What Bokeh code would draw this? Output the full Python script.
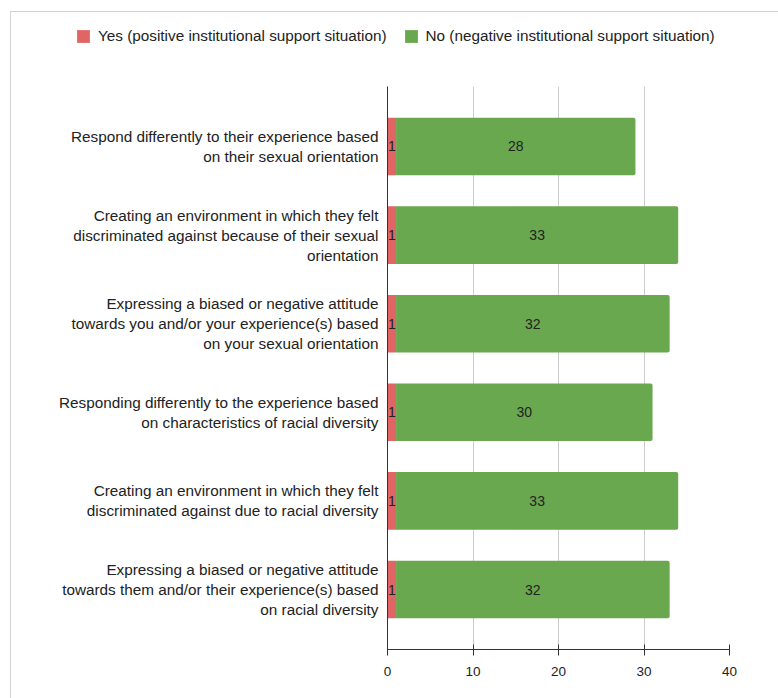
from bokeh.plotting import figure
from bokeh.layouts import column
from bokeh.models import (ColumnDataSource, Range1d, FixedTicker, Legend, LegendItem)
from bokeh.core.properties import value
from bokeh.embed import file_html
from bokeh.resources import INLINE

# Survey items (top to bottom) and response counts
categories = [
    "Respond differently to their experience based\non their sexual orientation",
    "Creating an environment in which they felt\ndiscriminated against because of their sexual\norientation",
    "Expressing a biased or negative attitude\ntowards you and/or your experience(s) based\non your sexual orientation",
    "Responding differently to the experience based\non characteristics of racial diversity",
    "Creating an environment in which they felt\ndiscriminated against due to racial diversity",
    "Expressing a biased or negative attitude\ntowards them and/or their experience(s) based\non racial diversity",
]
yes_counts = [1, 1, 1, 1, 1, 1]
no_counts = [28, 33, 32, 30, 33, 32]
x_ticks = [0, 10, 20, 30, 40]

series_names = ["Yes (positive institutional support situation)",
                "No (negative institutional support situation)"]
YES_COLOR = "#e06666"
NO_COLOR = "#6aa84f"
FONT = "Liberation Sans"
TEXT_COLOR = "#222222"

idx = list(range(len(categories)))
no_start = yes_counts
no_end = [a + b for a, b in zip(yes_counts, no_counts)]

src = ColumnDataSource(dict(
    y=idx,
    yes_end=yes_counts,
    no_start=no_start,
    no_end=no_end,
    yes_mid=[e / 2 for e in yes_counts],
    no_mid=[(s + e) / 2 for s, e in zip(no_start, no_end)],
    yes_lbl=[str(v) for v in yes_counts],
    no_lbl=[str(v) for v in no_counts],
))

# ---- legend strip on top ----
leg_fig = figure(
    width=767, height=74, output_backend="svg", toolbar_location=None,
    x_axis_type=None, y_axis_type=None,
    min_border=0, min_border_left=0, min_border_right=0,
    min_border_top=0, min_border_bottom=0,
)
leg_fig.frame_align = False
leg_fig.outline_line_color = None
leg_fig.xgrid.grid_line_color = None
leg_fig.ygrid.grid_line_color = None
# zero-width swatch renderers that only carry the legend styling
swatch_src = ColumnDataSource(dict(y=[0], left=[0], right=[0]))
sw_yes = leg_fig.hbar(y="y", left="left", right="right", height=1, source=swatch_src,
                      fill_color=YES_COLOR, line_color=None)
sw_no = leg_fig.hbar(y="y", left="left", right="right", height=1, source=swatch_src,
                     fill_color=NO_COLOR, line_color=None)
legend = Legend(
    items=[LegendItem(label=series_names[0], renderers=[sw_yes]),
           LegendItem(label=series_names[1], renderers=[sw_no])],
    orientation="horizontal",
    location=(64, 41),
    glyph_width=16, glyph_height=16, label_height=16,
    label_standoff=7, spacing=16, padding=0, margin=0,
    label_text_font=FONT, label_text_font_size="15.3px",
    label_text_color=TEXT_COLOR,
    border_line_color=None, background_fill_alpha=0,
)
leg_fig.add_layout(legend, "center")

# ---- main bar chart ----
p = figure(
    width=767, height=612,
    x_range=Range1d(0, 40),
    y_range=Range1d(5.677, -0.677),
    output_backend="svg", toolbar_location=None,
    min_border_left=376, min_border_right=49,
    min_border_top=0, min_border_bottom=49,
)
p.frame_align = False
p.outline_line_color = None

r_yes = p.hbar(y="y", left=0, right="yes_end", height=0.65, source=src,
               fill_color=YES_COLOR, line_color=None)
r_no = p.hbar(y="y", left="no_start", right="no_end", height=0.65, source=src,
              fill_color=NO_COLOR, line_color=None,
              border_radius=(0, 2, 2, 0))

p.text(x="yes_mid", y="y", text="yes_lbl", source=src,
       text_align="center", text_baseline="middle",
       text_font=value(FONT), text_font_size="14px", text_color=TEXT_COLOR)
p.text(x="no_mid", y="y", text="no_lbl", source=src,
       text_align="center", text_baseline="middle",
       text_font=value(FONT), text_font_size="14px", text_color=TEXT_COLOR)

# x axis
p.xaxis.ticker = FixedTicker(ticks=x_ticks)
p.xaxis.axis_line_color = "#333333"
p.xaxis.axis_line_width = 1.2
p.xaxis.major_tick_line_color = "#333333"
p.xaxis.major_tick_in = 5
p.xaxis.major_tick_out = 6
p.xaxis.minor_tick_line_color = None
p.xaxis.major_label_standoff = 11
p.xaxis.major_label_text_font = FONT
p.xaxis.major_label_text_font_size = "13.5px"
p.xaxis.major_label_text_color = TEXT_COLOR

# y axis with wrapped item labels
p.yaxis.ticker = FixedTicker(ticks=idx)
p.yaxis.major_label_overrides = {i: c for i, c in zip(idx, categories)}
p.yaxis.axis_line_color = "#333333"
p.yaxis.major_tick_line_color = None
p.yaxis.minor_tick_line_color = None
p.yaxis.major_label_standoff = 3
p.yaxis.major_label_text_font = FONT
p.yaxis.major_label_text_font_size = "15.3px"
p.yaxis.major_label_text_color = TEXT_COLOR
p.yaxis.major_label_text_line_height = 1.18
p.yaxis.major_label_text_align = "right"

p.xgrid.grid_line_color = "#cccccc"
p.ygrid.grid_line_color = None

page = column(
    leg_fig, p, spacing=0,
    styles={"margin-left": "10px", "margin-top": "11px",
            "border-left": "1px solid #d3d3d3",
            "border-top": "1px solid #d3d3d3"},
)

open("out.html", "w").write(file_html(page, INLINE))
